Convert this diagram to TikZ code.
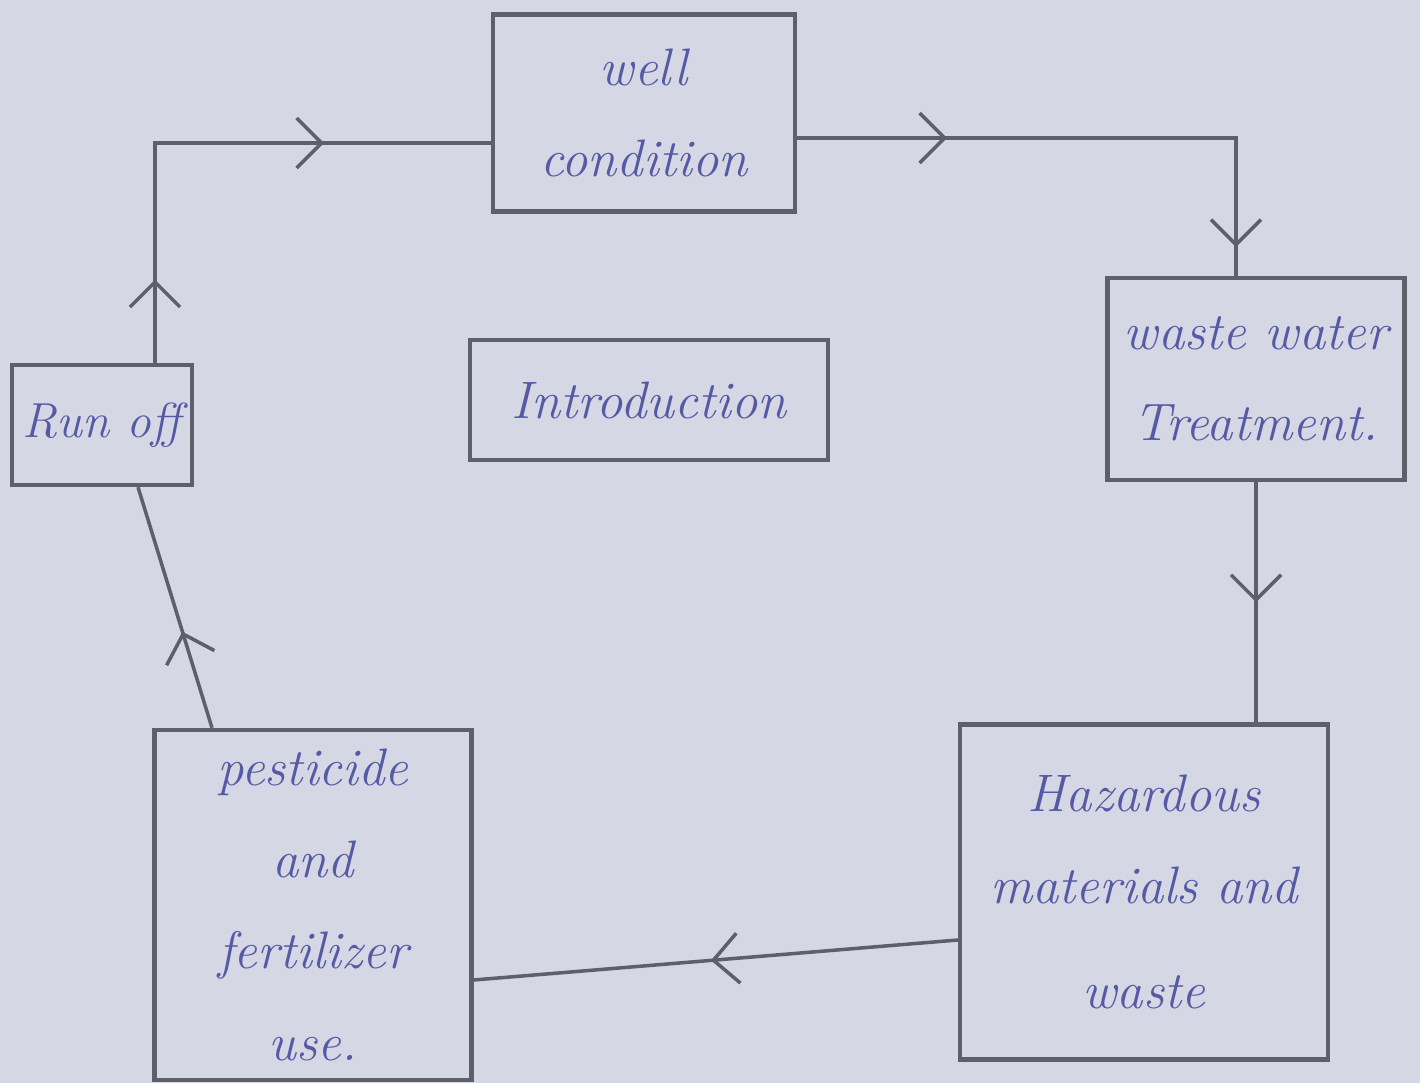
\documentclass[tikz,border=0pt]{standalone}
\usetikzlibrary{arrows.meta,decorations.markings}
\definecolor{paper}{RGB}{214,215,228}
\definecolor{pencil}{RGB}{95,95,105}
\definecolor{ink}{RGB}{85,90,165}
\tikzstyle{box}=[rectangle,draw=pencil,line width=1.2pt,align=center,inner sep=2pt,font=\fontsize{15}{26}\selectfont\itshape,text=ink]
\tikzstyle{line}=[draw=pencil,line width=1pt]
\tikzset{midarr/.style={postaction={decorate,decoration={markings,mark=at position #1 with {\arrow{Straight Barb[length=2.5mm,width=5mm,line width=1pt]}}}}}}

\begin{document}
\begin{tikzpicture}
\fill[paper] (0,0) rectangle (14.2,-10.83);
\useasboundingbox (0,0) rectangle (14.2,-10.83);
\node (well) [box, minimum width=3.02cm, minimum height=1.97cm] at (6.44,-1.13) {well\\condition};
\node (waste) [box, minimum width=2.97cm, minimum height=2.02cm] at (12.56,-3.79) {waste water\\Treatment.};
\node (hazard) [box, minimum width=3.68cm, minimum height=3.35cm] at (11.44,-8.92) {Hazardous\\materials and\\[4pt] waste};
\node (pest) [box, minimum width=3.17cm, minimum height=3.5cm] at (3.13,-9.05) {pesticide\\and\\fertilizer\\use.};
\node (run) [box, minimum width=1.8cm, minimum height=1.2cm, font=\fontsize{14}{20}\selectfont\itshape] at (1.02,-4.25) {Run off};
\node (intro) [box, minimum width=3.58cm, minimum height=1.2cm] at (6.49,-4.0) {Introduction};
\draw [line, midarr=0.15, midarr=0.7] ([xshift=0.53cm]run.north) |- ([yshift=-0.3cm]well.west);
\draw [line, midarr=0.26, midarr=0.95] ([yshift=-0.25cm]well.east) -| ([xshift=-0.2cm]waste.north);
\draw [line, midarr=0.5] (waste.south) -- (waste.south |- hazard.north);
\draw [line, midarr=0.51] ([yshift=-0.48cm]hazard.west) -- ([yshift=-0.75cm]pest.east);
\draw [line, midarr=0.4] ([xshift=-1.01cm]pest.north) -- ([xshift=0.36cm]run.south);
\end{tikzpicture}
\end{document}
